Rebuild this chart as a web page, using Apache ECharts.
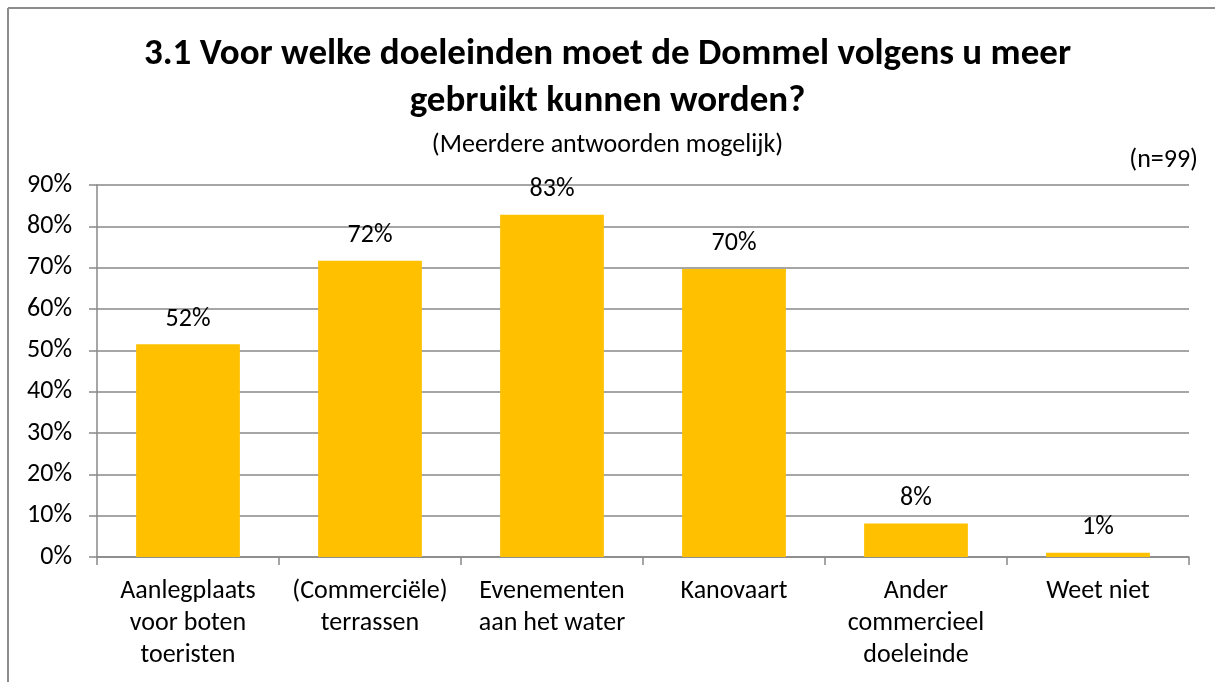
<!DOCTYPE html>
<html>
<head>
<meta charset="utf-8">
<style>
  html, body { margin: 0; padding: 0; background: #fff; }
  #chart { width: 1215px; height: 682px; }
</style>
<script src="https://cdn.jsdelivr.net/npm/echarts@6/dist/echarts.min.js"></script>
</head>
<body>
<div id="chart"></div>
<script>
const categories = [
  "Aanlegplaats\nvoor boten\ntoeristen",
  "(Commerciële)\nterrassen",
  "Evenementen\naan het water",
  "Kanovaart",
  "Ander\ncommercieel\ndoeleinde",
  "Weet niet",
];
const percentages = [51.5, 71.7, 82.8, 69.7, 8.1, 1.0];
const yTicks = { min: 0, max: 90, interval: 10 };

const fontFamily = "Carlito, 'Liberation Sans', Arial, sans-serif";
const gridColor = "#888888";

const chart = echarts.init(document.getElementById("chart"), null, { renderer: "canvas" });
chart.setOption({
  animation: false,
  textStyle: { fontFamily },
  title: [
    {
      text: "3.1 Voor welke doeleinden moet de Dommel volgens u meer\ngebruikt kunnen worden?",
      left: "center",
      top: 31,
      padding: 0,
      textStyle: { fontSize: 37, fontWeight: "bold", color: "#000", lineHeight: 47, fontFamily },
    },
    {
      text: "(Meerdere antwoorden mogelijk)",
      left: "center",
      top: 132,
      padding: 0,
      textStyle: { fontSize: 26, lineHeight: 26, fontWeight: "normal", color: "#000", fontFamily },
    },
    {
      text: "(n=99)",
      right: 17,
      top: 147,
      padding: 0,
      textStyle: { fontSize: 26, lineHeight: 26, fontWeight: "normal", color: "#000", fontFamily },
    },
  ],
  graphic: [
    { type: "line", shape: { x1: 8, y1: 8, x2: 1215, y2: 8 }, style: { stroke: "#8c8c8c", lineWidth: 2 } },
    { type: "line", shape: { x1: 8, y1: 8, x2: 8, y2: 682 }, style: { stroke: "#8c8c8c", lineWidth: 2 } },
  ],
  grid: { left: 97, right: 26, top: 185, bottom: 125 },
  xAxis: {
    type: "category",
    data: categories,
    axisLine: { lineStyle: { color: gridColor, width: 1.5 } },
    axisTick: { show: true, length: 8, lineStyle: { color: gridColor, width: 1.5 } },
    axisLabel: { color: "#000", fontSize: 26, lineHeight: 32, margin: 18, interval: 0 },
  },
  yAxis: {
    type: "value",
    min: yTicks.min,
    max: yTicks.max,
    interval: yTicks.interval,
    axisLine: { show: true, lineStyle: { color: gridColor, width: 1.5 } },
    axisTick: { show: true, length: 8, lineStyle: { color: gridColor, width: 1.5 } },
    splitLine: { lineStyle: { color: gridColor, width: 1.5 } },
    axisLabel: { color: "#000", fontSize: 26, margin: 25, formatter: (v) => `${v}%` },
  },
  series: [{
    type: "bar",
    data: percentages,
    barCategoryGap: "43%",
    itemStyle: { color: "#FFC000" },
    label: {
      show: true,
      position: "top",
      distance: 12,
      color: "#000",
      fontSize: 26,
      lineHeight: 26,
      formatter: (p) => `${Math.round(p.value)}%`,
    },
  }],
});
</script>
</body>
</html>
